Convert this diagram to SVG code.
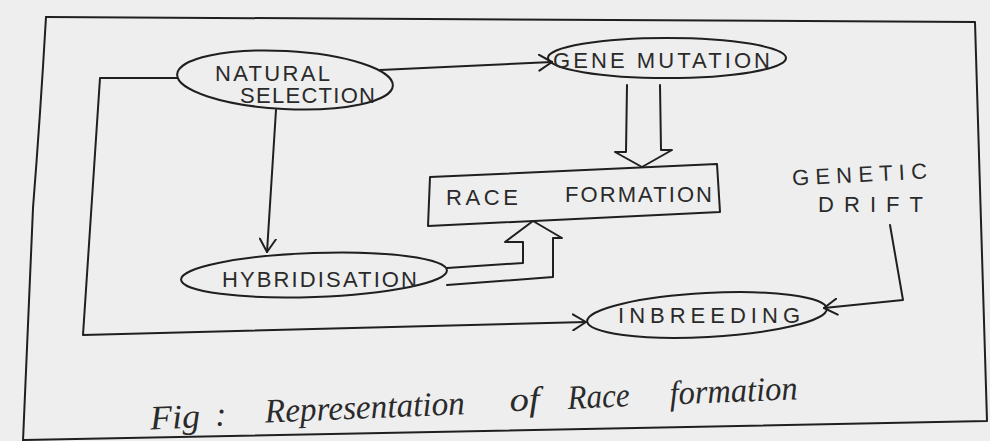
<svg xmlns="http://www.w3.org/2000/svg" width="990" height="441" viewBox="0 0 990 441">
  <defs>
    <style>
      .ink { fill: none; stroke: #1f1f1f; stroke-width: 2; stroke-linejoin: round; stroke-linecap: round; }
      .lbl { font-family: "Liberation Sans", "DejaVu Sans", sans-serif; font-size: 22px; fill: #2a2a2a; }
      .cap { font-family: "Liberation Serif", "DejaVu Serif", serif; font-style: italic; font-size: 34px; fill: #2a2a2a; }
    </style>
    <marker id="open" markerUnits="userSpaceOnUse" viewBox="-14 -9 16 18" refX="0" refY="0" markerWidth="16" markerHeight="18" orient="auto">
      <path d="M-13,-8 L0,0 L-13,8" fill="none" stroke="#1f1f1f" stroke-width="2" stroke-linecap="round" stroke-linejoin="round"/>
    </marker>
  </defs>

  <!-- paper -->
  <rect x="0" y="0" width="990" height="441" fill="#eeeeee"/>

  <!-- page frame -->
  <path class="ink" d="M46,17 L975,22 L987,421 L24,440"/>
  <path class="ink" d="M46,17 Q40,120 33,208 L23,441"/>

  <!-- connectors -->
  <g id="connectors">
    <path class="ink" d="M380,70 L552,62" marker-end="url(#open)"/>
    <path class="ink" d="M276,110 L267,252" marker-end="url(#open)"/>
    <path class="ink" d="M177,78 L100,78 L83,335 L586,322" marker-end="url(#open)"/>
    <path class="ink" d="M890,225 L903,300 L824,308" marker-end="url(#open)"/>
    <!-- hollow block arrow: gene mutation to race formation -->
    <path class="ink" d="M627,85 L626,152 L615,152 L642,167 L672,150 L661,150 L660,85"/>
    <!-- hollow block arrow: hybridisation to race formation -->
    <path class="ink" d="M447,268 L523,263 L523,242 L505,242 L533,221 L562,238 L553,238 L553,277 L447,285"/>
  </g>

  <g id="natural-selection">
    <ellipse class="ink" cx="285" cy="80" rx="108" ry="29" transform="rotate(3 285 80)"/>
    <text class="lbl" x="215" y="81" textLength="115" lengthAdjust="spacing">NATURAL</text>
    <text class="lbl" x="240" y="103" textLength="135" lengthAdjust="spacing">SELECTION</text>
  </g>

  <g id="gene-mutation">
    <ellipse class="ink" cx="667" cy="58" rx="119" ry="20"/>
    <text class="lbl" x="553" y="68" textLength="217" lengthAdjust="spacing">GENE MUTATION</text>
  </g>

  <g id="race-formation">
    <path class="ink" d="M430,177 L717,164 L720,212 L428,226 Z"/>
    <text class="lbl" x="446" y="205" textLength="72" lengthAdjust="spacing">RACE</text>
    <text class="lbl" x="565" y="202" textLength="147" lengthAdjust="spacing">FORMATION</text>
  </g>

  <g id="genetic-drift">
    <text class="lbl" x="792" y="182" textLength="135" lengthAdjust="spacing" transform="rotate(-3 860 175)">GENETIC</text>
    <text class="lbl" x="818" y="212" textLength="105" lengthAdjust="spacing">DRIFT</text>
  </g>

  <g id="hybridisation">
    <ellipse class="ink" cx="314" cy="275" rx="133" ry="22" transform="rotate(-2 314 275)"/>
    <text class="lbl" x="222" y="287" textLength="195" lengthAdjust="spacing">HYBRIDISATION</text>
  </g>

  <g id="inbreeding">
    <ellipse class="ink" cx="707" cy="315" rx="120" ry="22" transform="rotate(-3 707 315)"/>
    <text class="lbl" x="618" y="323" textLength="182" lengthAdjust="spacing">INBREEDING</text>
  </g>

  <!-- caption -->
  <g id="caption" transform="rotate(-2.4 470 410)">
    <text class="cap" x="150" y="416" textLength="50" lengthAdjust="spacingAndGlyphs">Fig</text>
    <text class="cap" x="215" y="415">:</text>
    <text class="cap" x="265" y="414" textLength="200" lengthAdjust="spacingAndGlyphs">Representation</text>
    <text class="cap" x="510" y="413" textLength="30" lengthAdjust="spacingAndGlyphs">of</text>
    <text class="cap" x="568" y="413" textLength="62" lengthAdjust="spacingAndGlyphs">Race</text>
    <text class="cap" x="670" y="413" textLength="128" lengthAdjust="spacingAndGlyphs">formation</text>
  </g>
</svg>
